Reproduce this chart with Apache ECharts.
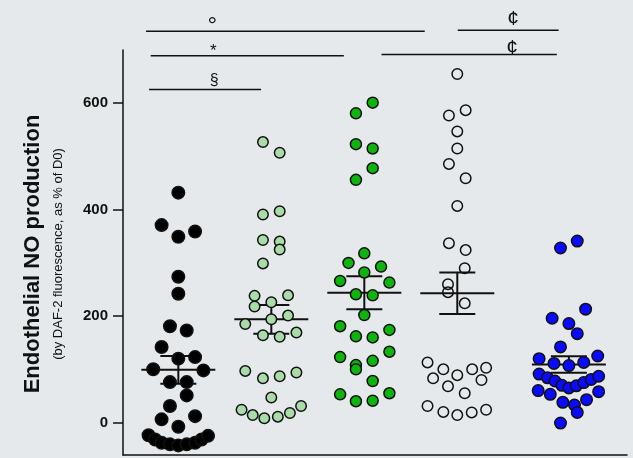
<!DOCTYPE html>
<html>
<head>
<meta charset="utf-8">
<script src="https://cdn.jsdelivr.net/npm/echarts@6/dist/echarts.min.js"></script>
<style>
  html, body { margin: 0; padding: 0; background: #e5e9eb; }
  #chart { width: 633px; height: 458px; }
</style>
</head>
<body>
<div id="chart"></div>
<script>
// Group positions on the horizontal value axis
const groupCenters = [1, 2, 3, 4, 5.2];

// Y tick labels
const yTicks = [0, 200, 400, 600];

// Per-point values (% of D0) and horizontal swarm offsets (axis units)
const blackValues = [432, 371, 349, 359, 274, 242, 181, 173, 142, 120, 123, 100, 98, 76, 76, 51, 31, 6, 12, -8, -24, -32, -38, -41, -43, -41, -38, -32, -25];
const blackJitter = [0, -0.18, 0, 0.18, 0, 0, -0.09, 0.09, -0.18, 0, 0.18, -0.27, 0.27, -0.09, 0.09, 0.09, -0.09, -0.18, 0.18, 0, -0.32, -0.25, -0.18, -0.09, 0, 0.09, 0.18, 0.25, 0.32];

const paleValues = [527, 507, 391, 397, 343, 340, 325, 299, 238, 239, 218, 226, 185, 194, 201, 164, 161, 169, 97, 83, 87, 94, 47, 24, 14, 8, 11, 18, 31];
const paleJitter = [-0.09, 0.09, -0.09, 0.09, -0.09, 0.09, 0.09, -0.09, -0.18, 0.18, -0.18, 0, -0.28, 0, 0.18, -0.09, 0.09, 0.27, -0.28, -0.09, 0.09, 0.27, 0, -0.32, -0.2, -0.075, 0.07, 0.2, 0.32];

const greenValues = [581, 601, 523, 515, 478, 456, 318, 300, 293, 282, 266, 263, 241, 239, 202, 181, 162, 160, 174, 123, 108, 100, 116, 133, 78, 53, 40, 41, 55];
const greenJitter = [-0.09, 0.09, -0.09, 0.09, 0.09, -0.09, 0, -0.17, 0.18, 0, -0.26, 0.27, -0.09, 0.09, 0, -0.26, -0.09, 0.09, 0.27, -0.26, -0.09, -0.09, 0.09, 0.27, 0.09, -0.26, -0.09, 0.09, 0.27];

const openValues = [655, 577, 587, 547, 515, 486, 459, 407, 337, 324, 290, 260, 245, 224, 113, 100, 89, 100, 103, 83, 68, 80, 55, 31, 20, 14, 19, 24];
const openJitter = [0, -0.09, 0.09, 0, 0, -0.09, 0.09, 0, -0.09, 0.09, 0.08, -0.1, -0.1, 0.08, -0.32, -0.15, 0, 0.16, 0.31, -0.26, -0.1, 0.26, 0.08, -0.32, -0.15, 0, 0.155, 0.31];

const blueValues = [328, 341, 213, 196, 186, 167, 142, 120, 125, 111, 107, 113, 91, 84, 78, 70, 65, 69, 75, 81, 87, 60, 53, 58, 38, 33, 43, 19, -1];
const blueJitter = [-0.09, 0.09, 0.18, -0.18, 0, 0.09, -0.09, -0.32, 0.31, -0.16, 0, 0.16, -0.32, -0.23, -0.15, -0.075, 0, 0.08, 0.16, 0.24, 0.32, -0.33, -0.2, 0.32, -0.065, 0.06, 0.19, 0.09, -0.09];

// Mean and SEM for each group
const meanValues = [99, 194, 244, 243, 109];
const semValues = [26, 27, 31, 39, 15.5];

// Significance brackets: horizontal extent, height (data units), symbol and its x position
const sigStart = [0.653, 4.005, 0.703, 3.185, 0.685];
const sigEnd   = [3.65, 5.09, 2.78, 5.07, 1.89];
const sigLevel = [735, 737, 689, 691.5, 626];
const sigMark  = ['°', '¢', '*', '¢', '§'];
const sigMarkAt = [1.365, 4.6, 1.375, 4.59, 1.385];

const FONT = 'Liberation Sans, Arial, Helvetica, sans-serif';

// Glyph size and vertical nudge (px) for each bracket's symbol
const markFontSize = [24, 21, 17, 21, 16];
const markNudge = [9, 1, 6, 6.6, 1];

function swarm(values, jitter, center) {
  return values.map((v, i) => [center + jitter[i], v]);
}

function dotSeries(name, values, jitter, center, size, fill) {
  return {
    name: name,
    type: 'scatter',
    z: 3,
    symbol: 'circle',
    symbolSize: size,
    data: swarm(values, jitter, center),
    itemStyle: { color: fill, borderColor: '#111', borderWidth: 1.5, opacity: 1 },
    emphasis: { disabled: true },
    silent: true
  };
}

function renderMean(params, api) {
  const x = api.value(0), m = api.value(1), s = api.value(2);
  const c = api.coord([x, m]);
  const top = api.coord([x, m + s])[1];
  const bot = api.coord([x, m - s])[1];
  const style = { stroke: '#111', lineWidth: 2 };
  return {
    type: 'group',
    children: [
      { type: 'line', shape: { x1: c[0] - 37, y1: c[1], x2: c[0] + 37, y2: c[1] }, style: style },
      { type: 'line', shape: { x1: c[0], y1: top, x2: c[0], y2: bot }, style: style },
      { type: 'line', shape: { x1: c[0] - 18, y1: top, x2: c[0] + 18, y2: top }, style: style },
      { type: 'line', shape: { x1: c[0] - 18, y1: bot, x2: c[0] + 18, y2: bot }, style: style }
    ]
  };
}

function renderSig(params, api) {
  const i = params.dataIndex;
  const a = api.coord([api.value(0), api.value(2)]);
  const b = api.coord([api.value(1), api.value(2)]);
  const t = api.coord([api.value(3), api.value(2)]);
  return {
    type: 'group',
    children: [
      { type: 'line', shape: { x1: a[0], y1: a[1], x2: b[0], y2: b[1] }, style: { stroke: '#111', lineWidth: 1.5 } },
      { type: 'text', x: t[0], y: t[1] - 2 + markNudge[i], style: {
          text: sigMark[i], fill: '#111', font: markFontSize[i] + 'px ' + FONT,
          align: 'center', verticalAlign: 'bottom' } }
    ]
  };
}

const chart = echarts.init(document.getElementById('chart'), null, { renderer: 'canvas' });

chart.setOption({
  backgroundColor: '#e5e9eb',
  animation: false,
  grid: { left: 123, right: 6, top: 50, bottom: 3, containLabel: false },
  xAxis: {
    type: 'value',
    min: 0.405,
    max: 5.825,
    axisLine: { show: true, onZero: false, lineStyle: { color: '#111', width: 1.5 } },
    axisTick: { show: false },
    axisLabel: { show: false },
    splitLine: { show: false }
  },
  yAxis: {
    type: 'value',
    min: -61,
    max: 700,
    axisLine: { show: true, onZero: false, lineStyle: { color: '#111', width: 1.5 } },
    axisTick: { show: true, inside: false, length: 10, customValues: yTicks, lineStyle: { color: '#111', width: 1.5 } },
    axisLabel: {
      show: true, margin: 15, customValues: yTicks,
      color: '#111', fontFamily: FONT, fontSize: 15, fontWeight: 'bold'
    },
    splitLine: { show: false }
  },
  graphic: [
    {
      type: 'text', x: 33, y: 254, rotation: Math.PI / 2,
      style: { text: 'Endothelial NO production', fill: '#111', font: 'bold 22px ' + FONT, align: 'center', verticalAlign: 'middle' }
    },
    {
      type: 'text', x: 58, y: 254, rotation: Math.PI / 2,
      style: { text: '(by DAF-2 fluorescence, as % of D0)', fill: '#111', font: '13px ' + FONT, align: 'center', verticalAlign: 'middle' }
    }
  ],
  series: [
    {
      name: 'meanSem',
      type: 'custom',
      z: 2,
      silent: true,
      renderItem: renderMean,
      data: meanValues.map((m, i) => [groupCenters[i], m, semValues[i]])
    },
    dotSeries('black', blackValues, blackJitter, groupCenters[0], 12.5, '#000000'),
    dotSeries('paleGreen', paleValues, paleJitter, groupCenters[1], 10.5, '#a9dca9'),
    dotSeries('green', greenValues, greenJitter, groupCenters[2], 11, '#0db40d'),
    dotSeries('open', openValues, openJitter, groupCenters[3], 10.5, 'rgba(0,0,0,0)'),
    dotSeries('blue', blueValues, blueJitter, groupCenters[4], 11.5, '#0a0aff'),
    {
      name: 'significance',
      type: 'custom',
      z: 4,
      clip: false,
      silent: true,
      renderItem: renderSig,
      data: sigStart.map((s, i) => [s, sigEnd[i], sigLevel[i], sigMarkAt[i]])
    }
  ]
});
</script>
</body>
</html>
